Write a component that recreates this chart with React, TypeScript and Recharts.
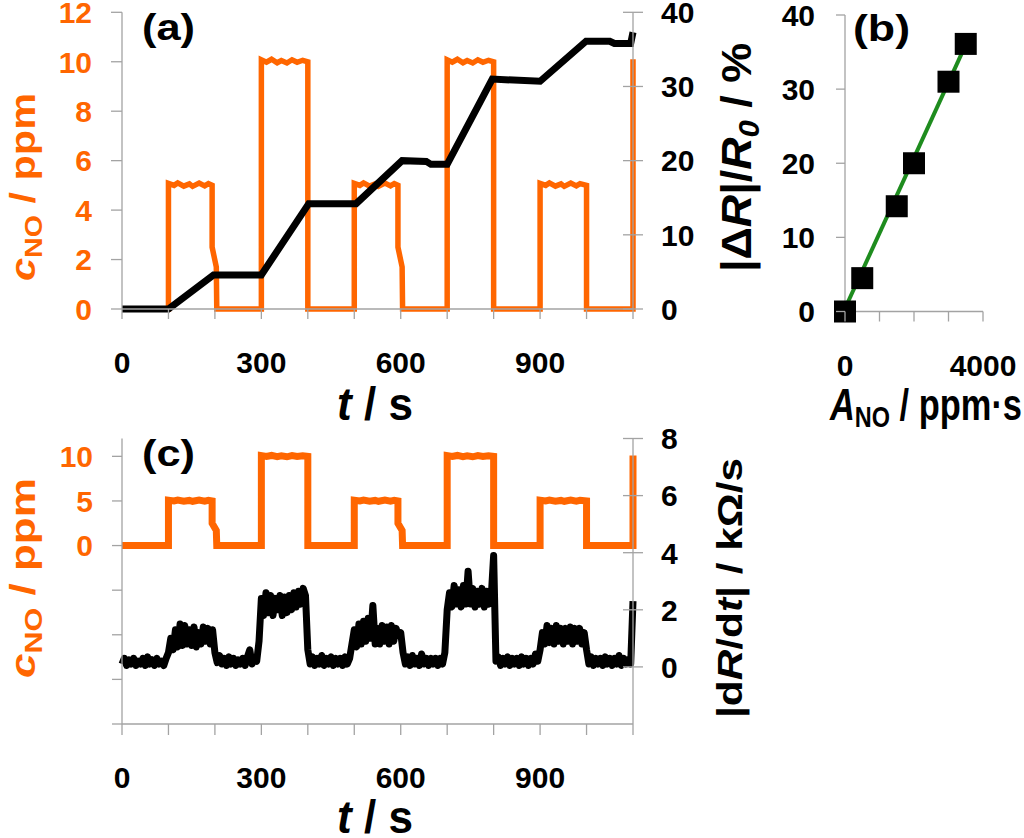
import React from "react";
import { ComposedChart, Line, XAxis, YAxis, Scatter } from "recharts";

const FONT = "'Liberation Sans', Arial, Helvetica, sans-serif";
const ORANGE = "#FF6600";
const GREEN = "#1E8C1E";
const AXIS = "#A3A3A3";

// ---------- shared time axis ----------
const timeTicks = [0, 100, 200, 300, 400, 500, 600, 700, 800, 900, 1000, 1100];
const timeLabels = [0, 300, 600, 900];

// ---------- panel (a) ----------
const concTicksA = [0, 2, 4, 6, 8, 10, 12];
const respTicksA = [0, 10, 20, 30, 40];

// NO concentration (ppm) vs time (s)
const noTime = [
  0, 100, 100, 112, 120, 133, 145, 152, 166, 178, 186, 194, 194, 203, 204,
  300, 300, 311, 322, 334, 343, 355, 366, 377, 389, 400, 400,
  500, 500, 512, 520, 533, 545, 552, 566, 578, 586, 594, 594, 603, 604,
  700, 700, 711, 722, 734, 743, 755, 766, 777, 789, 800, 800,
  900, 900, 912, 920, 933, 945, 952, 966, 978, 986, 1000, 1000,
  1100, 1100,
];
const noConc = [
  0, 0, 5.08, 5.0, 5.1, 4.97, 5.06, 4.96, 5.09, 4.98, 5.07, 5.0, 2.5, 1.7, 0,
  0, 10.08, 9.98, 10.1, 9.96, 10.05, 9.95, 10.08, 9.98, 10.06, 10.0, 0,
  0, 5.08, 5.0, 5.1, 4.97, 5.06, 4.96, 5.09, 4.98, 5.07, 5.0, 2.5, 1.7, 0,
  0, 10.08, 9.98, 10.1, 9.96, 10.05, 9.95, 10.08, 9.98, 10.06, 10.0, 0,
  0, 5.08, 5.0, 5.1, 4.97, 5.06, 4.96, 5.09, 4.98, 5.07, 5.0, 0,
  0, 10.1,
];

// cumulative |dR|/R0 (%) vs time (s)
const respTime = [0, 100, 197, 300, 402, 504, 603, 655, 665, 700, 797, 900, 999, 1050, 1060, 1095, 1100];
const respVal = [0, 0, 4.6, 4.6, 14.2, 14.2, 20, 19.9, 19.5, 19.5, 31, 30.7, 36.1, 36.1, 35.8, 35.8, 37.3];

// ---------- panel (b) ----------
const doseA = [0, 500, 1500, 2000, 3000, 3500];
const doseR = [0, 4.5, 14.2, 20, 31, 36.1];
const fitA = [0, 3480];
const fitR = [0.4, 35.8];
const doseTicksX = [0, 1000, 2000, 3000, 4000];
const doseLabelsX = [0, 4000];
const doseTicksY = [0, 10, 20, 30, 40];

// ---------- panel (c) ----------
const concTicksC = [-20, -15, -10, -5, 0, 5, 10];
const concLabelsC = [0, 5, 10];
const rateTicksC = [0, 2, 4, 6, 8];

// |dR/dt| (kOhm/s) sampled every 5 s
const rateTime = [
  0, 5, 10, 15, 20, 25, 30, 35, 40, 45, 50, 55, 60, 65, 70, 75, 80, 85, 90, 95,
  100, 105, 110, 115, 120, 125, 130, 135, 140, 145, 150, 155, 160, 165, 170, 175, 180, 185, 190, 195,
  200, 205, 210, 215, 220, 225, 230, 235, 240, 245, 250, 255, 260, 265, 270, 275, 280, 285, 290, 295,
  300, 305, 310, 315, 320, 325, 330, 335, 340, 345, 350, 355, 360, 365, 370, 375, 380, 385, 390, 395,
  400, 405, 410, 415, 420, 425, 430, 435, 440, 445, 450, 455, 460, 465, 470, 475, 480, 485, 490, 495,
  500, 505, 510, 515, 520, 525, 530, 535, 540, 545, 550, 555, 560, 565, 570, 575, 580, 585, 590, 595,
  600, 605, 610, 615, 620, 625, 630, 635, 640, 645, 650, 655, 660, 665, 670, 675, 680, 685, 690, 695,
  700, 705, 710, 715, 720, 725, 730, 735, 740, 745, 750, 755, 760, 765, 770, 775, 780, 785, 790, 795,
  800, 805, 810, 815, 820, 825, 830, 835, 840, 845, 850, 855, 860, 865, 870, 875, 880, 885, 890, 895,
  900, 905, 910, 915, 920, 925, 930, 935, 940, 945, 950, 955, 960, 965, 970, 975, 980, 985, 990, 995,
  1000, 1005, 1010, 1015, 1020, 1025, 1030, 1035, 1040, 1045, 1050, 1055, 1060, 1065, 1070, 1075, 1080, 1085, 1090, 1095,
  1100,
];
const rateVal = [
  0.1, 0.3, 0.05, 0.25, 0.1, 0.3, 0.05, 0.2, 0.1, 0.3, 0.05, 0.35, 0.1, 0.25, 0.05, 0.3, 0.1, 0.2, 0.05, 0.3,
  0.5, 1.0, 0.6, 1.3, 0.7, 1.5, 0.75, 1.45, 0.8, 1.3, 0.75, 1.4, 0.7, 1.2, 0.8, 1.4, 0.9, 1.35, 0.8, 1.3,
  0.5, 0.15, 0.4, 0.1, 0.3, 0.05, 0.35, 0.1, 0.3, 0.05, 0.25, 0.1, 0.3, 0.05, 0.35, 0.6, 0.1, 0.3, 0.2, 0.9,
  2.4, 1.8, 2.6, 1.9, 2.5, 1.8, 2.4, 2.0, 2.5, 1.8, 2.45, 1.9, 2.5, 2.0, 2.6, 2.1, 2.65, 2.2, 2.75, 2.5,
  0.6, 0.1, 0.35, 0.05, 0.3, 0.1, 0.4, 0.05, 0.3, 0.1, 0.35, 0.05, 0.3, 0.1, 0.3, 0.05, 0.35, 0.1, 0.3, 0.8,
  1.3, 0.7, 1.5, 0.8, 1.6, 0.9, 1.7, 1.0, 2.15, 0.8, 1.35, 0.8, 1.45, 0.9, 1.4, 0.8, 1.45, 0.9, 1.35, 1.1,
  1.2, 0.5, 0.1, 0.35, 0.05, 0.4, 0.1, 0.3, 0.05, 0.45, 0.1, 0.3, 0.05, 0.3, 0.1, 0.3, 0.05, 0.3, 0.1, 0.5,
  2.0, 2.6, 2.1, 2.85, 2.2, 2.7, 2.1, 2.85, 2.2, 3.35, 2.2, 2.75, 2.1, 2.65, 2.2, 2.75, 2.1, 2.65, 2.2, 2.5,
  3.9, 0.2, 0.35, 0.05, 0.3, 0.1, 0.35, 0.05, 0.3, 0.1, 0.3, 0.05, 0.35, 0.1, 0.3, 0.05, 0.3, 0.1, 0.45, 0.2,
  0.6, 1.2, 0.8, 1.45, 0.85, 1.35, 0.8, 1.45, 0.9, 1.35, 0.8, 1.35, 0.9, 1.4, 0.8, 1.35, 0.9, 1.35, 0.8, 1.2,
  0.6, 0.1, 0.35, 0.05, 0.3, 0.1, 0.3, 0.05, 0.35, 0.1, 0.3, 0.05, 0.3, 0.1, 0.4, 0.05, 0.3, 0.1, 0.25, 0.1,
  2.3,
];

// ---------- tables ----------
const zip = (xs: number[], ys: number[], kx: string, ky: string) => {
  const n = Math.min(xs.length, ys.length);
  const out: any[] = [];
  for (let i = 0; i < n; i++) out.push({ [kx]: xs[i], [ky]: ys[i] });
  return out;
};
const noData = zip(noTime, noConc, "t", "v");
const respData = zip(respTime, respVal, "t", "v");
const rateData = zip(rateTime, rateVal, "t", "v");
const doseData = zip(doseA, doseR, "A", "R");
const fitData = zip(fitA, fitR, "A", "R");

// ---------- tick renderer ----------
type TickOpts = {
  side: "left" | "right" | "bottom";
  color: string;
  show: number[];
  out: number;
  inn: number;
  gap: number;
  fs: number;
};
function tickRenderer(o: TickOpts) {
  return (p: any) => {
    const x = Number(p.x);
    const y = Number(p.y);
    const v = p.payload ? p.payload.value : 0;
    const label = o.show.includes(v) ? String(v) : "";
    const txt = {
      fontFamily: FONT,
      fontWeight: 700,
      fontSize: o.fs,
      fill: o.color,
    } as any;
    if (o.side === "left") {
      return (
        <g>
          <line x1={x - o.out} y1={y} x2={x + o.inn} y2={y} stroke={AXIS} strokeWidth={1.3} />
          {label !== "" && (
            <text x={x - o.gap} y={y + o.fs * 0.36} textAnchor="end" {...txt}>
              {label}
            </text>
          )}
        </g>
      );
    }
    if (o.side === "right") {
      return (
        <g>
          <line x1={x - o.inn} y1={y} x2={x + o.out} y2={y} stroke={AXIS} strokeWidth={1.3} />
          {label !== "" && (
            <text x={x + o.gap} y={y + o.fs * 0.36} textAnchor="start" {...txt}>
              {label}
            </text>
          )}
        </g>
      );
    }
    return (
      <g>
        <line x1={x} y1={y - o.inn} x2={x} y2={y + o.out} stroke={AXIS} strokeWidth={1.3} />
        {label !== "" && (
          <text x={x} y={y + o.gap} textAnchor="middle" {...txt}>
            {label}
          </text>
        )}
      </g>
    );
  };
}

const axisLine = { stroke: AXIS, strokeWidth: 1.3 };
const common = { tickSize: 0, tickMargin: 0, tickLine: false, interval: 0 as const, axisLine };

function Square(p: any) {
  return <rect x={p.cx - 11} y={p.cy - 11} width={22} height={22} fill="#000" />;
}

export default function App() {
  return (
    <div style={{ position: "fixed", left: 0, top: 0, width: 1024, height: 838, background: "#fff", overflow: "hidden" }}>
      {/* panel (a) */}
      <div style={{ position: "absolute", left: 0, top: 0 }}>
        <ComposedChart width={720} height={430} margin={{ top: 12.3, right: 27, bottom: 61, left: 62 }}>
          <XAxis
            type="number"
            dataKey="t"
            domain={[0, 1100]}
            ticks={timeTicks}
            height={60}
            {...common}
            tick={tickRenderer({ side: "bottom", color: "#000", show: timeLabels, out: 10, inn: 0, gap: 63.5, fs: 30 })}
          />
          <YAxis
            yAxisId="L"
            type="number"
            domain={[0, 12]}
            ticks={concTicksA}
            width={60}
            {...common}
            tick={tickRenderer({ side: "left", color: ORANGE, show: concTicksA, out: 11, inn: 0, gap: 30, fs: 30 })}
          />
          <YAxis
            yAxisId="R"
            orientation="right"
            type="number"
            domain={[0, 40]}
            ticks={respTicksA}
            width={60}
            {...common}
            tick={tickRenderer({ side: "right", color: "#000", show: respTicksA, out: 10, inn: 10, gap: 28, fs: 30 })}
          />
          <Line
            yAxisId="L"
            data={noData}
            dataKey="v"
            type="linear"
            stroke={ORANGE}
            strokeWidth={5.5}
            dot={false}
            isAnimationActive={false}
          />
          <Line
            yAxisId="R"
            data={respData}
            dataKey="v"
            type="linear"
            stroke="#000"
            strokeWidth={7}
            dot={false}
            isAnimationActive={false}
          />
        </ComposedChart>
      </div>

      {/* panel (b) */}
      <div style={{ position: "absolute", left: 760, top: 0 }}>
        <ComposedChart width={264} height={430} margin={{ top: 15, right: 41, bottom: 58.5, left: 25 }}>
          <XAxis
            type="number"
            dataKey="A"
            domain={[0, 4000]}
            ticks={doseTicksX}
            height={60}
            {...common}
            tick={tickRenderer({ side: "bottom", color: "#000", show: doseLabelsX, out: 10, inn: 0, gap: 64.5, fs: 30 })}
          />
          <YAxis
            type="number"
            dataKey="R"
            domain={[0, 40]}
            ticks={doseTicksY}
            width={60}
            {...common}
            tick={tickRenderer({ side: "left", color: "#000", show: doseTicksY, out: 9, inn: 0, gap: 30, fs: 30 })}
          />
          <Scatter data={doseData} dataKey="R" shape={Square} isAnimationActive={false} />
          <Line
            data={fitData}
            dataKey="R"
            type="linear"
            stroke={GREEN}
            strokeWidth={4}
            dot={false}
            isAnimationActive={false}
          />
        </ComposedChart>
      </div>

      {/* panel (c) */}
      <div style={{ position: "absolute", left: 0, top: 420 }}>
        <ComposedChart width={720} height={418} margin={{ top: 18.5, right: 27, bottom: 54, left: 62 }}>
          <XAxis
            type="number"
            dataKey="t"
            domain={[0, 1100]}
            ticks={timeTicks}
            height={60}
            {...common}
            tick={tickRenderer({ side: "bottom", color: "#000", show: timeLabels, out: 11, inn: 0, gap: 63.5, fs: 30 })}
          />
          <YAxis
            yAxisId="L"
            type="number"
            domain={[-20, 12]}
            ticks={concTicksC}
            width={60}
            {...common}
            tick={tickRenderer({ side: "left", color: ORANGE, show: concLabelsC, out: 10, inn: 0, gap: 29, fs: 30 })}
          />
          <YAxis
            yAxisId="R"
            orientation="right"
            type="number"
            domain={[-2, 8]}
            ticks={rateTicksC}
            width={60}
            {...common}
            tick={tickRenderer({ side: "right", color: "#000", show: rateTicksC, out: 10, inn: 10, gap: 28, fs: 30 })}
          />
          <Line
            yAxisId="L"
            data={noData}
            dataKey="v"
            type="linear"
            stroke={ORANGE}
            strokeWidth={7}
            dot={false}
            isAnimationActive={false}
          />
          <Line
            yAxisId="R"
            data={rateData}
            dataKey="v"
            type="linear"
            stroke="#000"
            strokeWidth={7}
            strokeLinejoin="round"
            dot={false}
            isAnimationActive={false}
          />
        </ComposedChart>
      </div>

      {/* titles and panel letters */}
      <svg width={1024} height={838} style={{ position: "absolute", left: 0, top: 0, pointerEvents: "none" }}>
        <g fontFamily={FONT} fontWeight={700}>
          <text x={142} y={39.5} fontSize={36} textLength={53} lengthAdjust="spacingAndGlyphs" fill="#000">(a)</text>
          <text x={853} y={40.5} fontSize={36} textLength={57} lengthAdjust="spacingAndGlyphs" fill="#000">(b)</text>
          <text x={142} y={465.5} fontSize={36} textLength={53} lengthAdjust="spacingAndGlyphs" fill="#000">(c)</text>

          <text x={375} y={420} fontSize={46} textAnchor="middle" textLength={76} lengthAdjust="spacingAndGlyphs" fill="#000">
            <tspan fontStyle="italic">t</tspan>
            <tspan>{" / s"}</tspan>
          </text>
          <text x={375} y={833} fontSize={46} textAnchor="middle" textLength={76} lengthAdjust="spacingAndGlyphs" fill="#000">
            <tspan fontStyle="italic">t</tspan>
            <tspan>{" / s"}</tspan>
          </text>
          <text x={926} y={420} fontSize={44} textAnchor="middle" textLength={192} lengthAdjust="spacingAndGlyphs" fill="#000">
            <tspan fontStyle="italic">A</tspan>
            <tspan fontSize={30} dy={7}>NO</tspan>
            <tspan dy={-7}>{" / ppm·s"}</tspan>
          </text>

          <text transform="translate(35,187) rotate(-90) scale(1,0.85)" fontSize={42} textAnchor="middle" textLength={188} lengthAdjust="spacingAndGlyphs" fill={ORANGE}>
            <tspan fontStyle="italic">c</tspan>
            <tspan fontSize={29} dy={8}>NO</tspan>
            <tspan dy={-8}>{" / ppm"}</tspan>
          </text>
          <text transform="translate(35,578) rotate(-90) scale(1,0.85)" fontSize={42} textAnchor="middle" textLength={200} lengthAdjust="spacingAndGlyphs" fill={ORANGE}>
            <tspan fontStyle="italic">c</tspan>
            <tspan fontSize={29} dy={8}>NO</tspan>
            <tspan dy={-8}>{" / ppm"}</tspan>
          </text>

          <text transform="translate(751,157.5) rotate(-90)" fontSize={42} textAnchor="middle" textLength={229} lengthAdjust="spacingAndGlyphs" fill="#000">
            <tspan>{"|Δ"}</tspan>
            <tspan fontStyle="italic">R</tspan>
            <tspan>{"|/"}</tspan>
            <tspan fontStyle="italic">R</tspan>
            <tspan fontStyle="italic" fontSize={29} dy={8}>0</tspan>
            <tspan dy={-8}>{" / %"}</tspan>
          </text>
          <text transform="translate(742,588) rotate(-90) scale(1,0.85)" fontSize={42} textAnchor="middle" textLength={260} lengthAdjust="spacingAndGlyphs" fill="#000">
            <tspan>{"|d"}</tspan>
            <tspan fontStyle="italic">R</tspan>
            <tspan>{"/d"}</tspan>
            <tspan fontStyle="italic">t</tspan>
            <tspan>{"| / kΩ/s"}</tspan>
          </text>
        </g>
      </svg>
    </div>
  );
}
